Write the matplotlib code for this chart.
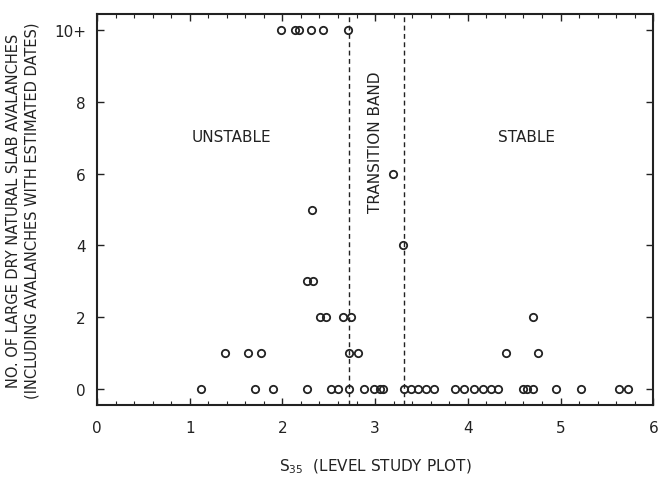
import matplotlib.pyplot as plt
from matplotlib.ticker import MultipleLocator

# S35 values, grouped by avalanche count
s35_0 = [1.12, 1.70, 1.90, 2.26, 2.52, 2.60, 2.72, 2.88, 2.99, 3.05, 3.08,
         3.31, 3.39, 3.46, 3.55, 3.63, 3.86, 3.96, 4.07, 4.16, 4.25, 4.32,
         4.59, 4.64, 4.70, 4.95, 5.22, 5.63, 5.73]
s35_1 = [1.38, 1.63, 1.77, 2.72, 2.81, 4.41, 4.76]
s35_2 = [2.41, 2.47, 2.65, 2.74, 4.70]
s35_3 = [2.27, 2.33]
s35_4 = [3.30]
s35_5 = [2.32]
s35_6 = [3.19]
s35_10 = [1.98, 2.14, 2.18, 2.31, 2.44, 2.71]

counts = [0, 1, 2, 3, 4, 5, 6, 10]
groups = [s35_0, s35_1, s35_2, s35_3, s35_4, s35_5, s35_6, s35_10]

band_edges = [2.72, 3.31]
yticks = [0, 2, 4, 6, 8, 10]
ytick_labels = ['0', '2', '4', '6', '8', '10+']

ink = '#222222'
fig = plt.figure(figsize=(6.67, 4.89), dpi=100)
ax = fig.add_axes([0.1454, 0.1697, 0.834, 0.7993])

for c, xs in zip(counts, groups):
    ax.plot(xs, [c] * len(xs), 'o', mfc='none', mec=ink, ms=5.3, mew=1.3,
            linestyle='none')

for b in band_edges:
    ax.axvline(b, color=ink, lw=1.0, ls=(0, (3.5, 2.5)), zorder=0)

ax.set_xlim(0, 6)
ax.set_ylim(-0.45, 10.45)
ax.set_yticks(yticks)
ax.set_yticklabels(ytick_labels)
ax.xaxis.set_minor_locator(MultipleLocator(0.2))
ax.tick_params(which='both', direction='in', top=True, right=True,
               colors=ink, labelsize=11)
ax.tick_params(axis='x', pad=11)
ax.tick_params(axis='y', pad=8)
ax.tick_params(which='major', length=5, width=1)
ax.tick_params(which='minor', length=3, width=0.8)
for s in ax.spines.values():
    s.set_linewidth(1.5)
    s.set_color(ink)

ax.text(1.45, 7.05, 'UNSTABLE', ha='center', va='center', fontsize=11, color=ink)
ax.text(4.63, 7.05, 'STABLE', ha='center', va='center', fontsize=11, color=ink)
ax.text(3.0, 6.9, 'TRANSITION BAND', ha='center', va='center', rotation=90,
        fontsize=11, color=ink)

ax.set_xlabel(r'S$_{35}$  (LEVEL STUDY PLOT)', fontsize=11, color=ink, labelpad=15)
ax.set_ylabel('NO. OF LARGE DRY NATURAL SLAB AVALANCHES\n'
              '(INCLUDING AVALANCHES WITH ESTIMATED DATES)',
              fontsize=10.5, color=ink, labelpad=10, linespacing=1.3)

fig.savefig('out.png', dpi=100)
